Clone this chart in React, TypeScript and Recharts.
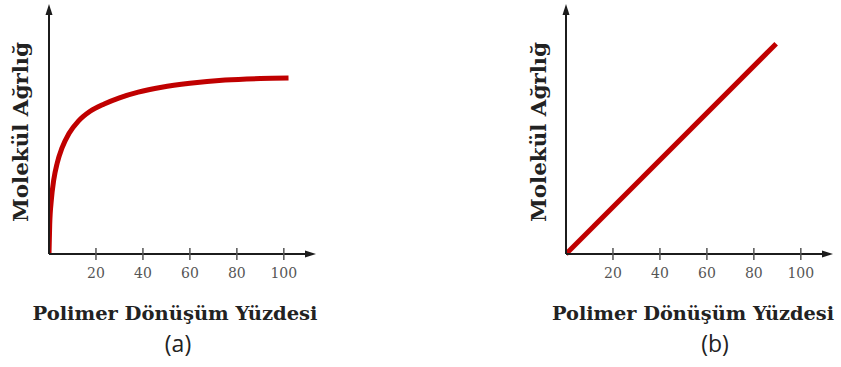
import React from 'react';
import { LineChart, Line, XAxis, YAxis, ReferenceDot } from 'recharts';

// grafik (a): eğri noktaları
const curveX = [0, 0.3, 1, 2, 3.5, 5.5, 8.5, 12.5, 17.5, 23.5, 30, 38, 48, 60, 75, 90, 102];
const curveY = [0, 12, 22, 30, 37, 43, 49, 54, 58, 61, 63.5, 65.8, 67.8, 69.4, 70.7, 71.3, 71.5];

// grafik (b): doğru
const lineX = [0, 89.5];
const lineY = [0, 85.5];

const xTicks = [20, 40, 60, 80, 100];

const xTitle = 'Polimer Dönüşüm Yüzdesi';
const yTitle = 'Molekül Ağrlığ';

const dataA = curveX.map((x, i) => ({ x, y: curveY[i] }));
const dataB = lineX.map((x, i) => ({ x, y: lineY[i] }));

const AXIS = '#1c1c1c';
const RED = '#c00000';

const AxisTick = (props: any) => {
    const { x, y, payload } = props;
    return (
        <g>
            <line x1={x} x2={x} y1={y - 6} y2={y + 6} stroke="#555" strokeWidth={1.5} />
            <text x={x} y={y + 24} textAnchor="middle" fill="#555" fontFamily="DejaVu Serif" fontSize={14}>
                {payload.value}
            </text>
        </g>
    );
};

const ArrowUp = (props: any) => {
    const { cx, cy } = props;
    return <path d={`M${cx},${cy - 4} L${cx - 3.5},${cy + 7} L${cx + 3.5},${cy + 7} Z`} fill={AXIS} />;
};

const ArrowRight = (props: any) => {
    const { cx, cy } = props;
    return <path d={`M${cx + 4},${cy} L${cx - 7},${cy - 3.5} L${cx - 7},${cy + 3.5} Z`} fill={AXIS} />;
};

function Panel({ data, left }: { data: { x: number; y: number }[]; left: number }) {
    return (
        <div style={{ position: 'absolute', left, top: 0 }}>
            <LineChart width={330} height={367} data={data} margin={{ top: 8, right: 18, bottom: 83, left: 29 }}>
                <XAxis
                    type="number"
                    dataKey="x"
                    domain={[0, 112]}
                    ticks={xTicks}
                    height={30}
                    tickSize={0}
                    tickMargin={0}
                    tick={<AxisTick />}
                    axisLine={{ stroke: AXIS, strokeWidth: 2 }}
                    allowDataOverflow
                />
                <YAxis
                    type="number"
                    domain={[0, 100]}
                    width={20}
                    tick={false}
                    tickLine={false}
                    axisLine={{ stroke: AXIS, strokeWidth: 2 }}
                />
                <ReferenceDot x={0} y={100} r={0} ifOverflow="visible" shape={<ArrowUp />} />
                <ReferenceDot x={112} y={0} r={0} ifOverflow="visible" shape={<ArrowRight />} />
                <Line
                    type="monotone"
                    dataKey="y"
                    stroke={RED}
                    strokeWidth={5}
                    dot={false}
                    isAnimationActive={false}
                />
            </LineChart>
        </div>
    );
}

export default function App() {
    const titleStyle = { fontFamily: 'DejaVu Serif', fontWeight: 700, fill: '#222' } as const;
    const capStyle = { fontFamily: 'Open Sans', fill: '#222' } as const;
    return (
        <div style={{ position: 'absolute', left: 0, top: 0, width: 841, height: 367, background: '#fff' }}>
            <Panel data={dataA} left={0} />
            <Panel data={dataB} left={517} />
            <svg width={841} height={367} style={{ position: 'absolute', left: 0, top: 0, pointerEvents: 'none' }}>
                <text x={175} y={320} textAnchor="middle" fontSize={19} textLength={285} lengthAdjust="spacingAndGlyphs" style={titleStyle}>
                    {xTitle}
                </text>
                <text x={693} y={320} textAnchor="middle" fontSize={19} textLength={282} lengthAdjust="spacingAndGlyphs" style={titleStyle}>
                    {xTitle}
                </text>
                <text transform="translate(28,132) rotate(-90)" textAnchor="middle" fontSize={20} textLength={180} lengthAdjust="spacingAndGlyphs" style={titleStyle}>
                    {yTitle}
                </text>
                <text transform="translate(546,132) rotate(-90)" textAnchor="middle" fontSize={20} textLength={180} lengthAdjust="spacingAndGlyphs" style={titleStyle}>
                    {yTitle}
                </text>
                <text x={178} y={352} textAnchor="middle" fontSize={23} style={capStyle}>(a)</text>
                <text x={715} y={352} textAnchor="middle" fontSize={23} style={capStyle}>(b)</text>
            </svg>
        </div>
    );
}
